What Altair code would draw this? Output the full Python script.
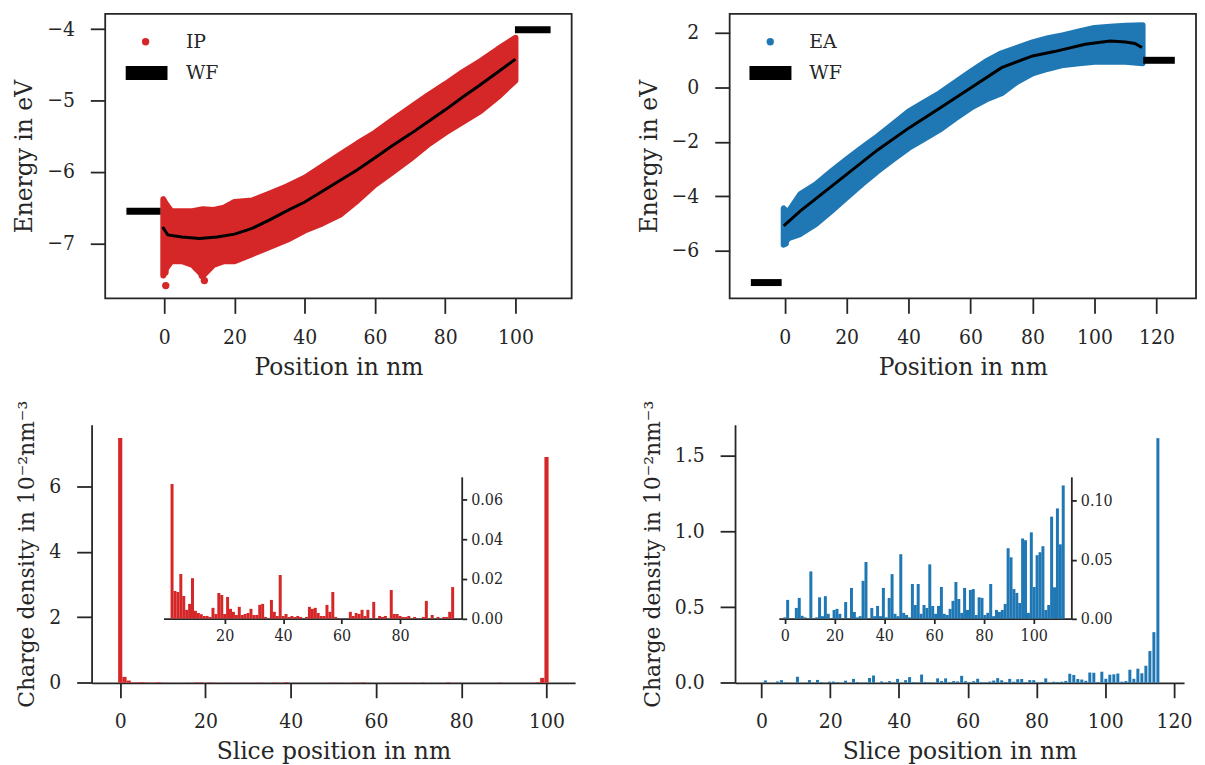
import altair as alt
import pandas as pd

# ---------------------------------------------------------------- data
# IP (top-left): band of the scattered points (upper / lower envelope) and mean line
ip_band_x = [-0.3, 0.5, 2, 5, 8, 11, 14, 17, 20, 25, 30, 35, 40, 45, 50, 55, 60, 65, 70, 75, 80, 85, 90, 95, 100]
ip_band_upper = [-6.38, -6.45, -6.55, -6.55, -6.55, -6.52, -6.53, -6.50, -6.42, -6.40, -6.30, -6.20, -6.08,
                 -5.92, -5.76, -5.60, -5.45, -5.27, -5.10, -4.93, -4.77, -4.60, -4.45, -4.28, -4.12]
ip_band_lower = [-7.45, -7.35, -7.25, -7.25, -7.30, -7.45, -7.30, -7.25, -7.25, -7.15, -7.05, -6.95, -6.82,
                 -6.72, -6.60, -6.40, -6.18, -6.00, -5.82, -5.62, -5.45, -5.30, -5.15, -4.95, -4.72]
ip_mean_x = [-0.5, 1, 5, 10, 15, 20, 25, 30, 35, 40, 45, 50, 55, 60, 65, 70, 75, 80, 85, 90, 95, 100]
ip_mean_y = [-6.77, -6.88, -6.91, -6.93, -6.91, -6.87, -6.79, -6.67, -6.54, -6.42, -6.27, -6.12, -5.97,
             -5.80, -5.63, -5.47, -5.30, -5.13, -4.95, -4.78, -4.60, -4.42]
ip_outlier_x = [0.4, 0.2, 10.8, 11.4]
ip_outlier_y = [-7.59, -7.40, -7.45, -7.52]
ip_wf_x1 = [-10.8, 99.85]
ip_wf_x2 = [-1.1, 110.0]
ip_wf_y = [-6.55, -4.01]

# EA (top-right)
ea_band_x = [-0.3, 1, 5, 10, 15, 20, 25, 30, 35, 40, 45, 50, 55, 60, 65, 70, 75, 80, 85, 90, 95, 100, 105,
             110, 115.5]
ea_band_upper = [-4.45, -4.60, -3.93, -3.57, -3.10, -2.65, -2.22, -1.80, -1.35, -0.89, -0.55, -0.22, 0.18,
                 0.57, 0.95, 1.25, 1.45, 1.65, 1.80, 1.91, 2.05, 2.18, 2.22, 2.26, 2.28]
ea_band_lower = [-5.78, -5.55, -5.39, -5.03, -4.55, -4.05, -3.55, -3.08, -2.65, -2.23, -1.90, -1.56, -1.15,
                 -0.76, -0.45, -0.22, 0.20, 0.51, 0.68, 0.82, 0.88, 0.94, 0.94, 0.94, 0.88]
ea_mean_x = [-0.3, 5, 10, 15, 20, 30, 40, 50, 60, 70, 80, 87, 97, 105, 110, 113, 115.3]
ea_mean_y = [-5.09, -4.55, -4.10, -3.65, -3.20, -2.30, -1.50, -0.77, -0.03, 0.72, 1.15, 1.31, 1.58, 1.70,
             1.66, 1.61, 1.46]
ea_outlier_x = [0.2, 0.5]
ea_outlier_y = [-5.72, -5.60]
ea_wf_x1 = [-10.9, 115.7]
ea_wf_x2 = [-0.96, 125.9]
ea_wf_y = [-7.17, 0.99]

# bottom-left: charge density per 1 nm slice (slices 0..100); inset shows slices 2..98
ip_inset_vals = [0.068, 0.0139, 0.0134, 0.0225, 0.0114, 0.0044, 0.0074, 0.0204, 0.0039, 0.0028, 0.0022,
                 0.0013, 0.0013, 0.0008, 0.0054, 0.0023, 0.0129, 0.0119, 0.0023, 0.0109, 0.0049, 0.0034,
                 0.0018, 0.0059, 0.0018, 0.0023, 0.0028, 0.0049, 0.0018, 0.0018, 0.0069, 0.0074, 0.0008,
                 0.0, 0.0094, 0.0034, 0.0013, 0.022, 0.0013, 0.0023, 0.0008, 0.0013, 0.0008, 0.0013, 0.0008,
                 0.0, 0.0008, 0.0059, 0.0049, 0.0054, 0.0028, 0.0013, 0.0013, 0.0069, 0.0034, 0.0134,
                 0.0008, 0.0, 0.0, 0.0, 0.0, 0.0034, 0.0013, 0.0028, 0.0023, 0.0044, 0.0013, 0.0044, 0.0,
                 0.0084, 0.0, 0.0013, 0.0008, 0.0013, 0.0, 0.0144, 0.0023, 0.0023, 0.0013, 0.0008, 0.0008,
                 0.0013, 0.0, 0.0008, 0.0, 0.0, 0.0008, 0.0089, 0.0, 0.0018, 0.0, 0.0008, 0.0, 0.0008,
                 0.0008, 0.0034, 0.0159]
ip_first_slices = [7.47, 0.18]
ip_last_slices = [0.15, 6.89]
IP_FIRST_INSET_SLICE = 2

# bottom-right: 100 slices of 1.165 nm; inset shows the first 97
ea_inset_vals = [0.001, 0.0158, 0.0, 0.0, 0.009, 0.0175, 0.0023, 0.001, 0.0, 0.040, 0.0, 0.001, 0.018,
                 0.002, 0.019, 0.004, 0.0, 0.0073, 0.0082, 0.004, 0.0, 0.014, 0.0, 0.026, 0.0056, 0.001,
                 0.002, 0.032, 0.048, 0.0, 0.009, 0.002, 0.0107, 0.002, 0.026, 0.001, 0.0175, 0.0377, 0.004,
                 0.002, 0.0546, 0.0048, 0.003, 0.001, 0.0293, 0.0115, 0.0293, 0.004, 0.0115, 0.009, 0.046,
                 0.0107, 0.004, 0.0107, 0.0268, 0.004, 0.003, 0.0082, 0.015, 0.031, 0.0166, 0.0048, 0.026,
                 0.0073, 0.0242, 0.025, 0.003, 0.018, 0.0175, 0.003, 0.0048, 0.0293, 0.002, 0.0073, 0.0056,
                 0.0073, 0.0124, 0.0597, 0.052, 0.025, 0.0217, 0.0132, 0.068, 0.0665, 0.0048, 0.0732,
                 0.0268, 0.0538, 0.0563, 0.0614, 0.0073, 0.0115, 0.0865, 0.0265, 0.0935, 0.063, 0.113]
ea_last_slices = [0.21, 0.335, 1.618]
EA_SLICE_WIDTH = 1.165

# ---------------------------------------------------------------- style / layout
RED = "#d62728"
BLUE = "#1f77b4"
INK = "#262626"
TICK_FONT = "DejaVu Serif Condensed, DejaVu Serif, serif"
TEXT_FONT = "DejaVu Serif, serif"
W, H = 1195, 750
TICK_FS, TITLE_FS, YTITLE_BAR_FS, LEGEND_FS, INSET_FS = 21, 23.5, 22, 19, 16

# panel geometry (pixel ranges inside the canvas) and axis domains
TL_XR, TL_YR, TL_XD, TL_YD = [97.7, 566.5], [290, 4], [-16.84, 116.0], [-7.77, -3.787]
TR_XR, TR_YR, TR_XD, TR_YD = [725.3, 1194], [290, 4], [-17.74, 132.74], [-7.753, 2.694]
BL_XR, BL_YR, BL_XD, BL_YD = [84, 570], [676.3, 417], [-5.55, 105.55], [0, 7.874]
BLI_XR, BLI_YR, BLI_XD, BLI_YD = [156.3, 456], [611.7, 469.3], [0.78, 99.4], [0, 0.0716]
BR_XR, BR_YR, BR_XD, BR_YD = [730.7, 1182], [676.3, 417], [-6.22, 121.5], [0, 1.706]
BRI_XR, BRI_YR, BRI_XD, BRI_YD = [774.7, 1068.7], [611.7, 469.3], [-0.39, 113.1], [0, 0.1203]

MAIN_AX = dict(tickSize=15, labelPadding=13, titlePadding=8, labelFlush=False, labelOverlap=False,
               labelFontSize=TICK_FS, titleFontSize=TITLE_FS, grid=False)
MAIN_AY = dict(tickSize=15, labelPadding=16, titlePadding=10, labelFlush=False, labelOverlap=False,
               labelFontSize=TICK_FS, grid=False)
INSET_AX = dict(tickSize=5, labelPadding=4, labelFlush=False, labelOverlap=False, labelFontSize=INSET_FS,
                grid=False, title=None)


def sc(domain, rng):
    return alt.Scale(domain=domain, range=rng, nice=False, zero=False)


def energy_panel(xr, yr, xd, yd, color, name, bx, bu, bl, mx, my, ox, oy, wx1, wx2, wy,
                 xvals, yvals, legend_px):
    xs, ys = sc(xd, xr), sc(yd, yr)
    ax_x = alt.Axis(orient="bottom", offset=yr[0] - H, values=xvals, domain=False,
                    title="Position in nm", **MAIN_AX)
    ax_y = alt.Axis(orient="left", offset=-xr[0], values=yvals, domain=False,
                    title="Energy in eV", titleFontSize=TITLE_FS, **MAIN_AY)

    def X(f):
        return alt.X(f, scale=xs, axis=ax_x)

    def Y(f):
        return alt.Y(f, scale=ys, axis=ax_y)

    frame_df = pd.DataFrame({"x1": [xd[0]], "x2": [xd[1]], "y1": [yd[0]], "y2": [yd[1]]})
    frame = alt.Chart(frame_df).mark_rect(fillOpacity=0, stroke=INK, strokeWidth=1.8).encode(
        x=X("x1:Q"), x2="x2:Q", y=Y("y1:Q"), y2="y2:Q")
    band_df = pd.DataFrame({"x": bx, "upper": bu, "lower": bl})
    band = alt.Chart(band_df).mark_area(color=color, stroke=color, strokeWidth=6, strokeJoin="round",
                                        opacity=1).encode(x=X("x:Q"), y=Y("lower:Q"), y2="upper:Q")
    out_df = pd.DataFrame({"x": ox, "y": oy})
    outl = alt.Chart(out_df).mark_circle(color=color, size=55, opacity=1).encode(x=X("x:Q"), y=Y("y:Q"))
    mean_df = pd.DataFrame({"x": mx, "y": my})
    mean = alt.Chart(mean_df).mark_line(color="black", strokeWidth=3).encode(x=X("x:Q"), y=Y("y:Q"))
    wf_df = pd.DataFrame({"x1": wx1, "x2": wx2, "y": wy})
    wf = alt.Chart(wf_df).mark_rule(color="black", strokeWidth=7).encode(x=X("x1:Q"), x2="x2:Q", y=Y("y:Q"))
    # legend (drawn as annotation marks)
    dot_x, txt_x, sw_x1, sw_x2, row1, row2 = legend_px
    one = pd.DataFrame({"a": [0]})
    lg_dot = alt.Chart(one).mark_circle(color=color, size=55, opacity=1).encode(
        x=alt.value(dot_x), y=alt.value(row1))
    lg_sw = alt.Chart(one).mark_rule(color="black", strokeWidth=14).encode(
        x=alt.value(sw_x1), x2=alt.value(sw_x2), y=alt.value(row2))
    lg_txt1 = alt.Chart(pd.DataFrame({"t": [name]})).mark_text(
        align="left", baseline="middle", font=TEXT_FONT, fontSize=LEGEND_FS, color=INK).encode(
        x=alt.value(txt_x), y=alt.value(row1), text="t:N")
    lg_txt2 = alt.Chart(pd.DataFrame({"t": ["WF"]})).mark_text(
        align="left", baseline="middle", font=TEXT_FONT, fontSize=LEGEND_FS, color=INK).encode(
        x=alt.value(txt_x), y=alt.value(row2), text="t:N")
    return alt.layer(frame, band, outl, mean, wf, lg_dot, lg_sw, lg_txt1, lg_txt2)


tl = energy_panel(TL_XR, TL_YR, TL_XD, TL_YD, RED, "IP", ip_band_x, ip_band_upper, ip_band_lower,
                  ip_mean_x, ip_mean_y, ip_outlier_x, ip_outlier_y, ip_wf_x1, ip_wf_x2, ip_wf_y,
                  [0, 20, 40, 60, 80, 100], [-7, -6, -5, -4],
                  (138.3, 178.8, 118.3, 160.3, 32, 63.5))
tr = energy_panel(TR_XR, TR_YR, TR_XD, TR_YD, BLUE, "EA", ea_band_x, ea_band_upper, ea_band_lower,
                  ea_mean_x, ea_mean_y, ea_outlier_x, ea_outlier_y, ea_wf_x1, ea_wf_x2, ea_wf_y,
                  [0, 20, 40, 60, 80, 100, 120], [-6, -4, -2, 0, 2],
                  (766.1, 805.3, 745.2, 787.4, 32, 63.5))

# bar data
ip_all_vals = ip_first_slices + ip_inset_vals + ip_last_slices
ip_df = pd.DataFrame({"pos": list(range(len(ip_all_vals))), "rho": ip_all_vals})
ip_inset_df = pd.DataFrame({"pos": list(range(IP_FIRST_INSET_SLICE, IP_FIRST_INSET_SLICE + len(ip_inset_vals))),
                            "rho": ip_inset_vals})
ea_all_vals = ea_inset_vals + ea_last_slices
ea_df = pd.DataFrame({"pos": [round(k * EA_SLICE_WIDTH, 3) for k in range(len(ea_all_vals))],
                      "rho": ea_all_vals})
ea_inset_df = pd.DataFrame({"pos": [round(k * EA_SLICE_WIDTH, 3) for k in range(len(ea_inset_vals))],
                            "rho": ea_inset_vals})

YT = "Charge density in 10\u207b\u00b2nm\u207b\u00b3"


def bar_main(df, xr, yr, xd, yd, color, width, xvals, yvals, yfmt):
    return alt.Chart(df).mark_bar(color=color, size=width).encode(
        x=alt.X("pos:Q", scale=sc(xd, xr),
                axis=alt.Axis(orient="bottom", offset=yr[0] - H, values=xvals, title="Slice position in nm",
                              **MAIN_AX)),
        y=alt.Y("rho:Q", scale=sc(yd, yr),
                axis=alt.Axis(orient="left", offset=-xr[0], values=yvals, format=yfmt, title=YT,
                              titleFontSize=YTITLE_BAR_FS, **MAIN_AY)),
    )


def bar_inset(df, xr, yr, xd, yd, color, width, xvals, yvals, yfmt):
    return alt.Chart(df).mark_bar(color=color, size=width).encode(
        x=alt.X("pos:Q", scale=sc(xd, xr),
                axis=alt.Axis(orient="bottom", offset=yr[0] - H, values=xvals, **INSET_AX)),
        y=alt.Y("rho:Q", scale=sc(yd, yr),
                axis=alt.Axis(orient="right", offset=xr[1] - W, values=yvals, format=yfmt, **INSET_AX)),
    )


bl = bar_main(ip_df, BL_XR, BL_YR, BL_XD, BL_YD, RED, 4.2, [0, 20, 40, 60, 80, 100], [0, 2, 4, 6], "d")
bli = bar_inset(ip_inset_df, BLI_XR, BLI_YR, BLI_XD, BLI_YD, RED, 3.0, [20, 40, 60, 80],
                [0, 0.02, 0.04, 0.06], ".2f")
br = bar_main(ea_df, BR_XR, BR_YR, BR_XD, BR_YD, BLUE, 3.0, [0, 20, 40, 60, 80, 100, 120],
              [0, 0.5, 1.0, 1.5], ".1f")
bri = bar_inset(ea_inset_df, BRI_XR, BRI_YR, BRI_XD, BRI_YD, BLUE, 3.0, [0, 20, 40, 60, 80, 100],
                [0, 0.05, 0.10], ".2f")

chart = alt.layer(tl, tr, bl, bli, br, bri).resolve_scale(
    x="independent", y="independent"
).properties(width=W, height=H, padding=0).configure_axis(
    labelFont=TICK_FONT, titleFont=TEXT_FONT, labelColor=INK, titleColor=INK, domainColor=INK, tickColor=INK,
    domainWidth=1.8, tickWidth=1.8, titleFontWeight="normal",
).configure_view(stroke=None)

chart.save("out.html", embed_options={"renderer": "svg", "actions": False})
